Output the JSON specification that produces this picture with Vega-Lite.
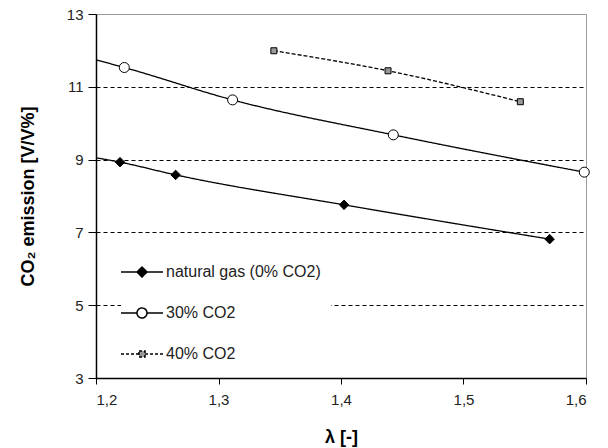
{
  "$schema": "https://vega.github.io/schema/vega-lite/v6.json",
  "width": 490,
  "height": 364,
  "autosize": {"type": "none"},
  "padding": {"left": 96, "top": 14, "right": 22, "bottom": 70},
  "background": "white",
  "config": {
    "font": "Liberation Sans",
    "view": {"stroke": "#9a9a9a", "strokeWidth": 1},
    "axis": {"domainColor": "black", "domainWidth": 1.5, "tickColor": "black", "tickWidth": 1, "labelColor": "#222", "titleColor": "black", "labelFont": "Liberation Sans", "titleFont": "Liberation Sans"}
  },
  "data": {
    "values": [
      {"series": "natural gas (0% CO2)", "lambda": 1.2, "co2": 9.05, "kind": "start"},
      {"series": "natural gas (0% CO2)", "lambda": 1.2196, "co2": 8.93, "kind": "measured"},
      {"series": "natural gas (0% CO2)", "lambda": 1.265, "co2": 8.58, "kind": "measured"},
      {"series": "natural gas (0% CO2)", "lambda": 1.4025, "co2": 7.757, "kind": "measured"},
      {"series": "natural gas (0% CO2)", "lambda": 1.5703, "co2": 6.815, "kind": "measured"},
      {"series": "30% CO2", "lambda": 1.2, "co2": 11.74, "kind": "start"},
      {"series": "30% CO2", "lambda": 1.2231, "co2": 11.53, "kind": "measured"},
      {"series": "30% CO2", "lambda": 1.3115, "co2": 10.64, "kind": "measured"},
      {"series": "30% CO2", "lambda": 1.4427, "co2": 9.68, "kind": "measured"},
      {"series": "30% CO2", "lambda": 1.5986, "co2": 8.655, "kind": "measured"},
      {"series": "40% CO2", "lambda": 1.3452, "co2": 11.99, "kind": "measured"},
      {"series": "40% CO2", "lambda": 1.4384, "co2": 11.44, "kind": "measured"},
      {"series": "40% CO2", "lambda": 1.5464, "co2": 10.59, "kind": "measured"}
    ]
  },
  "layer": [
    {
      "mark": {"type": "line", "color": "black", "strokeWidth": 1.3, "interpolate": "monotone"},
      "encoding": {
        "x": {
          "field": "lambda", "type": "quantitative",
          "scale": {"domain": [1.2, 1.6], "nice": false, "zero": false},
          "axis": {
            "values": [1.2, 1.3, 1.4, 1.5, 1.6],
            "labelExpr": "replace(format(datum.value, '.1f'), '.', ',')",
            "grid": false, "tickSize": 6, "labelPadding": 8, "labelFontSize": 15,
            "title": "λ [-]", "titleFontSize": 18, "titleFontWeight": "bold",
            "titleY": 59, "titleBaseline": "middle"
          }
        },
        "y": {
          "field": "co2", "type": "quantitative",
          "scale": {"domain": [3, 13], "nice": false, "zero": false},
          "axis": {
            "values": [3, 5, 7, 9, 11, 13],
            "grid": true, "gridColor": "black", "gridDash": [4, 3], "gridWidth": 1,
            "gridOpacity": {"condition": {"test": "datum.value > 12 || datum.value < 4", "value": 0}, "value": 1},
            "tickSize": 8, "labelPadding": 5, "labelFontSize": 15,
            "title": "CO₂ emission [V/V%]", "titleFontSize": 18, "titleFontWeight": "bold",
            "titleX": -68, "titleY": 182, "titleAngle": -90, "titleAlign": "center", "titleBaseline": "middle"
          }
        },
        "detail": {"field": "series"},
        "strokeDash": {"condition": {"test": "datum.series == '40% CO2'", "value": [4, 2]}, "value": [1, 0]}
      }
    },
    {
      "transform": [{"filter": "datum.kind == 'measured'"}],
      "mark": {"type": "point", "filled": true, "stroke": "black", "strokeWidth": 1, "opacity": 1},
      "encoding": {
        "x": {"field": "lambda", "type": "quantitative"},
        "y": {"field": "co2", "type": "quantitative"},
        "shape": {
          "condition": [
            {"test": "datum.series == '40% CO2'", "value": "square"},
            {"test": "datum.series == '30% CO2'", "value": "circle"}
          ],
          "value": "diamond"
        },
        "fill": {
          "condition": [
            {"test": "datum.series == '40% CO2'", "value": "#999"},
            {"test": "datum.series == '30% CO2'", "value": "white"}
          ],
          "value": "black"
        },
        "size": {
          "condition": [
            {"test": "datum.series == '40% CO2'", "value": 36},
            {"test": "datum.series == '30% CO2'", "value": 100}
          ],
          "value": 90
        }
      }
    },
    {
      "transform": [{"filter": "datum.kind == 'legend-only'"}],
      "mark": {"type": "point", "filled": true, "stroke": "black", "strokeWidth": 1.2, "opacity": 1},
      "encoding": {
        "x": {"field": "lambda", "type": "quantitative"},
        "y": {"field": "co2", "type": "quantitative"},
        "shape": {
          "field": "series", "type": "nominal",
          "scale": {
            "domain": ["natural gas (0% CO2)", "30% CO2", "40% CO2"],
            "range": [
              "M-2.1,0H-0.5M0.5,0H2.1M0,-0.5L0.5,0L0,0.5L-0.5,0Z",
              "M-2.1,0H-0.5M0.5,0H2.1M0.5,0A0.5,0.5 0 1,1 -0.5,0A0.5,0.5 0 1,1 0.5,0Z",
              "M-2.1,0H-0.3M0.3,0H2.1M-0.3,-0.3H0.3V0.3H-0.3Z"
            ]
          },
          "legend": {
            "title": null,
            "orient": "none",
            "legendX": 25,
            "legendY": 237,
            "padding": 10,
            "fillColor": "white",
            "symbolSize": 400,
            "rowPadding": 22,
            "labelFontSize": 16,
            "labelColor": "#222",
            "labelFont": "Liberation Sans",
            "labelOffset": 13,
            "labelLimit": 300,
            "encode": {
              "symbols": {
                "update": {
                  "stroke": {"value": "black"},
                  "strokeWidth": {"value": 1.2},
                  "size": {"value": 400},
                  "opacity": {"value": 1}
                }
              }
            }
          }
        },
        "fill": {
          "field": "series", "type": "nominal",
          "scale": {"domain": ["natural gas (0% CO2)", "30% CO2", "40% CO2"], "range": ["black", "white", "#999"]}
        },
        "strokeDash": {
          "field": "series", "type": "nominal",
          "scale": {"domain": ["natural gas (0% CO2)", "30% CO2", "40% CO2"], "range": [[1, 0], [1, 0], [3, 2]]}
        }
      }
    }
  ]
}
